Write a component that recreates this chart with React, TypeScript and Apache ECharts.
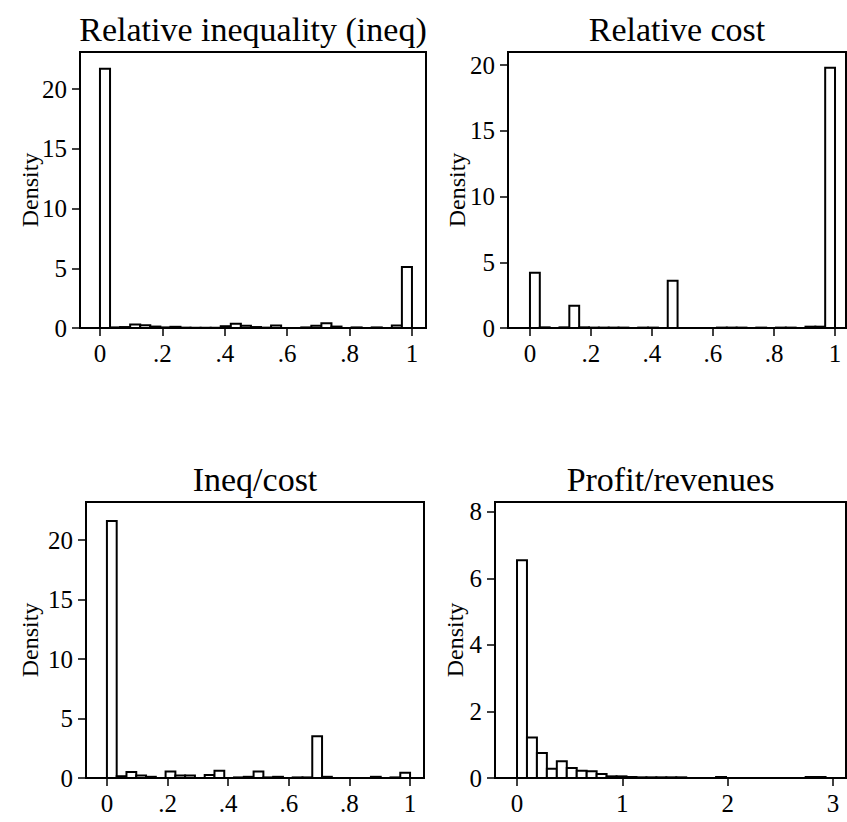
import React, { useEffect, useRef } from "react";
import * as echarts from "echarts";

// ---- Data (densities per histogram bin, 31 bins each) ----
const ineqRange = [0, 1];
const ineqDensity = [21.7, 0.05, 0.08, 0.3, 0.22, 0.12, 0.05, 0.1, 0.03, 0.02, 0.02, 0.02, 0.15, 0.35, 0.18, 0.08, 0.03, 0.2, 0, 0, 0.05, 0.18, 0.4, 0.12, 0, 0.05, 0, 0.05, 0, 0.2, 5.1];

const costRange = [0, 1];
const costDensity = [4.2, 0.05, 0, 0.05, 1.7, 0.05, 0.03, 0.03, 0.03, 0.03, 0, 0.03, 0.03, 0, 3.6, 0, 0, 0, 0, 0.03, 0.03, 0.03, 0, 0.03, 0, 0.03, 0.03, 0, 0.1, 0.1, 19.8];

const ratioRange = [0, 1];
const ratioDensity = [21.6, 0.15, 0.5, 0.2, 0.1, 0, 0.55, 0.2, 0.2, 0, 0.25, 0.6, 0, 0.05, 0.1, 0.55, 0.05, 0.1, 0, 0.05, 0.05, 3.5, 0.1, 0, 0, 0, 0, 0.1, 0, 0.05, 0.45];

const profitRange = [0, 2.93];
const profitDensity = [6.55, 1.22, 0.75, 0.28, 0.5, 0.3, 0.22, 0.2, 0.12, 0.05, 0.05, 0.03, 0.02, 0.02, 0.02, 0.02, 0.02, 0, 0, 0, 0.03, 0, 0, 0, 0, 0, 0, 0, 0, 0.03, 0.03];

const titles = ["Relative inequality (ineq)", "Relative cost", "Ineq/cost", "Profit/revenues"];
const yAxisTitle = "Density";

const xTicksUnit = [0, 0.2, 0.4, 0.6, 0.8, 1];
const xTicksProfit = [0, 1, 2, 3];
const yTicksBig = [0, 5, 10, 15, 20];
const yTicksProfit = [0, 2, 4, 6, 8];

const FONT = '"Liberation Serif", "Times New Roman", serif';

function binRows(range: number[], dens: number[]) {
  const w = (range[1] - range[0]) / dens.length;
  const rows: number[][] = [];
  dens.forEach((d, i) => {
    if (d > 0) rows.push([range[0] + i * w, range[0] + (i + 1) * w, d]);
  });
  return rows;
}

const fmtX = (v: number) => {
  if (v === 0) return "0";
  const s = String(Math.round(v * 100) / 100);
  return s.startsWith("0.") ? s.slice(1) : s;
};

export default function App() {
  const ref = useRef<HTMLDivElement>(null);
  useEffect(() => {
    document.body.style.margin = "0";
    if (!ref.current) return;
    const chart = echarts.init(ref.current, undefined, { renderer: "svg" });

    const panels = [
      { grid: { left: 80, top: 52, width: 346, height: 276 }, x: [-0.064, 1.045], y: [0, 23.1], xt: xTicksUnit, yt: yTicksBig, rows: binRows(ineqRange, ineqDensity), dx: 30 },
      { grid: { left: 508, top: 52, width: 338, height: 276 }, x: [-0.072, 1.036], y: [0, 21], xt: xTicksUnit, yt: yTicksBig, rows: binRows(costRange, costDensity), dx: 457 },
      { grid: { left: 86, top: 502, width: 338, height: 276 }, x: [-0.069, 1.046], y: [0, 23.2], xt: xTicksUnit, yt: yTicksBig, rows: binRows(ratioRange, ratioDensity), dx: 30 },
      { grid: { left: 495, top: 502, width: 351, height: 276 }, x: [-0.209, 3.124], y: [0, 8.3], xt: xTicksProfit, yt: yTicksProfit, rows: binRows(profitRange, profitDensity), dx: 455 },
    ];

    const option: any = {
      animation: false,
      backgroundColor: "#fff",
      title: panels.map((p, i) => ({
        text: titles[i],
        left: p.grid.left + p.grid.width / 2,
        top: p.grid.top - 40,
        padding: 0,
        textAlign: "center",
        textStyle: { fontFamily: FONT, fontSize: 34, fontWeight: "normal", color: "#000" },
      })),
      grid: panels.map((p) => ({ ...p.grid, show: true, borderColor: "#000", borderWidth: 2, backgroundColor: "#fff" })),
      xAxis: panels.map((p, i) => ({
        type: "value",
        gridIndex: i,
        min: p.x[0],
        max: p.x[1],
        splitLine: { show: false },
        axisLine: { show: true, onZero: false, lineStyle: { color: "#000", width: 2 } },
        axisTick: { show: true, length: 8, customValues: p.xt, lineStyle: { color: "#000", width: 1.5 } },
        axisLabel: { customValues: p.xt, formatter: fmtX, fontFamily: FONT, fontSize: 25, color: "#000", margin: 13 },
      })),
      yAxis: panels.map((p, i) => ({
        type: "value",
        gridIndex: i,
        min: p.y[0],
        max: p.y[1],
        splitLine: { show: false },
        axisLine: { show: true, onZero: false, lineStyle: { color: "#000", width: 2 } },
        axisTick: { show: true, length: 8, customValues: p.yt, lineStyle: { color: "#000", width: 1.5 } },
        axisLabel: { customValues: p.yt, fontFamily: FONT, fontSize: 25, color: "#000", margin: 13 },
      })),
      graphic: panels.map((p) => ({
        type: "text",
        x: p.dx,
        y: p.grid.top + p.grid.height / 2,
        rotation: Math.PI / 2,
        style: { text: yAxisTitle, font: `24px ${FONT}`, fill: "#000", align: "center", verticalAlign: "middle" },
      })),
      series: panels.map((p, i) => ({
        type: "custom",
        xAxisIndex: i,
        yAxisIndex: i,
        data: p.rows,
        encode: { x: [0, 1], y: 2 },
        clip: true,
        renderItem: (params: any, api: any) => {
          const a = api.coord([api.value(0), api.value(2)]);
          const b = api.coord([api.value(1), 0]);
          return {
            type: "rect",
            shape: { x: a[0], y: a[1], width: b[0] - a[0], height: b[1] - a[1] },
            style: { fill: "#fff", stroke: "#000", lineWidth: 2 },
          };
        },
      })),
    };
    chart.setOption(option);
    return () => chart.dispose();
  }, []);
  return <div ref={ref} style={{ width: 847, height: 822 }} />;
}
